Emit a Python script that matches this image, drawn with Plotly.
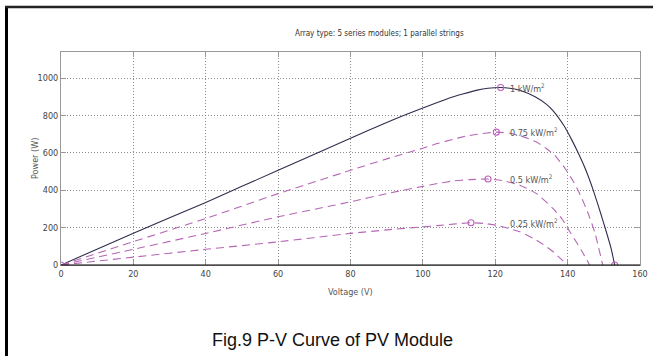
import plotly.graph_objects as go

# ---- data ----
v_1000 = [0, 20, 40, 60, 80, 90, 95, 100, 104, 108, 111, 115, 118, 121.5, 124, 127, 131, 134, 136, 139, 141, 143, 145, 147, 149, 150.5, 152, 153]
p_1000 = [0, 170, 335, 507, 679, 763, 803, 840, 870, 898, 915, 936, 946, 950, 946, 934, 900, 862, 825, 745, 675, 597, 510, 405, 285, 190, 90, 0]

v_750 = [0, 20, 40, 60, 80, 90, 100, 104, 108.4, 112, 115, 120.3, 124, 126.8, 131.4, 134, 136.5, 139, 141.5, 143.5, 145.5, 147.5, 149.7]
p_750 = [0, 125, 249, 382, 507, 568, 625, 650, 673, 690, 700, 711, 705, 693, 658, 625, 585, 525, 450, 375, 285, 175, 0]

v_500 = [0, 20, 40, 60, 80, 90, 100, 104, 108.4, 113, 118, 122, 126.8, 131.4, 136, 138.5, 140.6, 142.5, 144.3, 146.1]
p_500 = [0, 84, 169, 258, 338, 382, 421, 436, 450, 457, 460, 452, 427, 382, 302, 245, 178, 120, 62, 0]

v_250 = [0, 20, 40, 60, 80, 90, 100, 104, 108.4, 113.3, 117, 120.3, 126.8, 131.4, 134, 136, 138, 140]
p_250 = [0, 42, 84, 124, 169, 188, 204, 211, 219, 226, 222, 213, 178, 133, 100, 71, 35, 0]

marker_v = [0, 121.5, 120.3, 118, 113.3, 153]
marker_p = [0, 950, 711, 460, 226, 0]

labels = ["1 kW/m<sup>2</sup>", "0.75 kW/m<sup>2</sup>", "0.5 kW/m<sup>2</sup>", "0.25 kW/m<sup>2</sup>"]
label_p = [950, 711, 460, 226]

x_ticks = [0, 20, 40, 60, 80, 100, 120, 140, 160]
y_ticks = [0, 200, 400, 600, 800, 1000]

NARROW = "Liberation Sans Narrow, DejaVu Sans Condensed, Liberation Sans, sans-serif"
DASH_COL = "#b566b5"

# plot-area pixel geometry helpers
L, R, T, B = 61, 640, 52, 265
def px(x):
    return (x - L) / (R - L)
def py(y):
    return (B - y) / (B - T)

fig = go.Figure()
fig.add_trace(go.Scatter(x=v_1000, y=p_1000, mode="lines",
                         line=dict(color="#2e2e4e", width=1.1, shape="spline", smoothing=0.5)))
for vv, pp in [(v_750, p_750), (v_500, p_500), (v_250, p_250)]:
    fig.add_trace(go.Scatter(x=vv, y=pp, mode="lines",
                             line=dict(color=DASH_COL, width=1.1, dash="8px,5px",
                                       shape="spline", smoothing=0.5)))
fig.add_trace(go.Scatter(x=marker_v, y=marker_p, mode="markers",
                         marker=dict(symbol="circle-open", size=6, color="#c060c0",
                                     line=dict(width=1.1))))

for txt, p in zip(labels, label_p):
    fig.add_annotation(x=123.5, y=p, text=txt, showarrow=False, xanchor="left",
                       yanchor="middle", font=dict(family=NARROW, size=9, color="#555"))

fig.add_annotation(x=px(379), y=py(34), xref="paper", yref="paper",
                   text="Array type: 5 series modules; 1 parallel strings", showarrow=False,
                   xanchor="center", yanchor="middle",
                   font=dict(family=NARROW, size=8, color="#333"))
fig.add_annotation(x=px(350), y=py(292), xref="paper", yref="paper",
                   text="Voltage (V)", showarrow=False, xanchor="center", yanchor="middle",
                   font=dict(family=NARROW, size=9, color="#555"))
fig.add_annotation(x=px(35), y=py(159), xref="paper", yref="paper",
                   text="Power (W)", showarrow=False, textangle=-90,
                   xanchor="center", yanchor="middle",
                   font=dict(family=NARROW, size=9, color="#555"))
fig.add_annotation(x=px(332), y=py(340), xref="paper", yref="paper",
                   text="Fig.9 P-V Curve of PV Module", showarrow=False,
                   xanchor="center", yanchor="middle",
                   font=dict(family="Liberation Sans, Arial, sans-serif", size=18, color="#111"))

# outer frame (left and top)
fig.add_shape(type="line", xref="paper", yref="paper",
              x0=px(6.5), x1=px(6.5), y0=py(6), y1=py(360),
              line=dict(color="black", width=3))
fig.add_shape(type="line", xref="paper", yref="paper",
              x0=px(5), x1=px(660), y0=py(7), y1=py(7),
              line=dict(color="#222", width=2.5))
# bottom axis line black
fig.add_shape(type="line", xref="paper", yref="paper", x0=0, x1=1, y0=0, y1=0,
              line=dict(color="black", width=1.2))

axis_common = dict(showline=True, linecolor="#999", linewidth=1, mirror="allticks",
                   ticks="inside", ticklen=5, tickcolor="#999", automargin=False,
                   showgrid=True, gridcolor="#8c8c8c", gridwidth=1, griddash="1px,2px",
                   zeroline=False, tickfont=dict(family=NARROW, size=9, color="#444"))

fig.update_xaxes(range=[0, 160], tickvals=x_ticks, **axis_common)
fig.update_yaxes(range=[0, 1140], tickvals=y_ticks, **axis_common)

fig.update_layout(width=653, height=356, showlegend=False,
                  margin=dict(l=L, r=653 - R, t=T, b=356 - B),
                  paper_bgcolor="white", plot_bgcolor="white")

fig.write_html("out.html", config={"displayModeBar": False},
               post_script="document.body.style.margin='0';document.body.style.overflow='hidden';")
